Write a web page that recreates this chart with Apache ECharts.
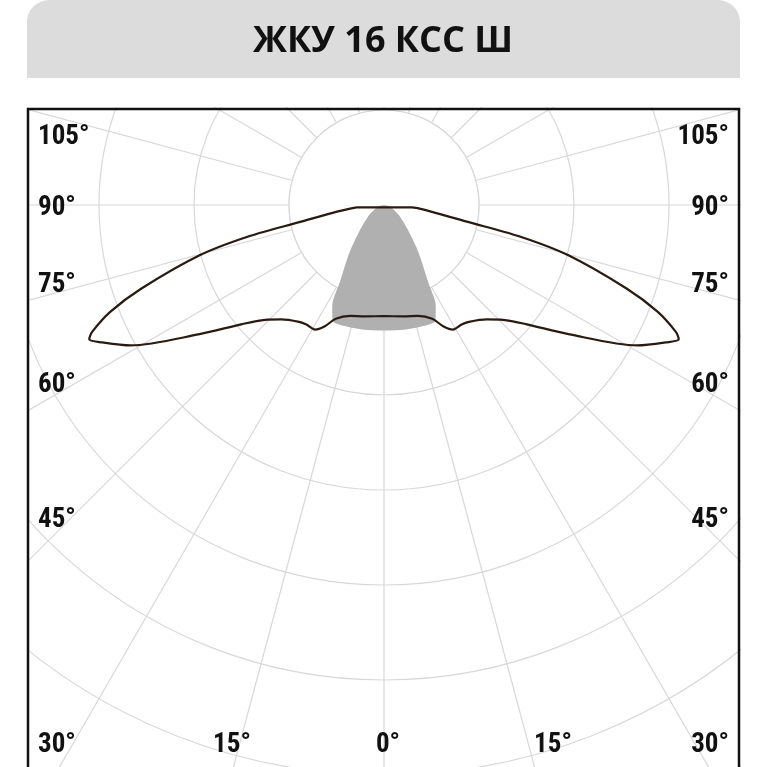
<!DOCTYPE html>
<html><head><meta charset="utf-8">
<script src="https://cdn.jsdelivr.net/npm/echarts@6/dist/echarts.min.js"></script>
<style>html,body{margin:0;padding:0;background:#fff}#c{width:767px;height:767px}</style>
</head><body><div id="c"></div>
<script>
const title = 'ЖКУ 16 КСС Ш';
// half-curve (angle from nadir, relative radius in circle units)
const outerAngles = [0,10,17,23,26,29,33,36,42,46,50,55,61,64,65.5,66.5,68.7,71,74.8,77,78.6,82,85];
const outerValues = [1.17,1.19,1.22,1.30,1.42,1.50,1.50,1.52,1.62,1.74,1.95,2.37,3.05,3.30,3.41,3.35,3.09,2.7,2.0,1.45,0.9,0.5,0.29];
const innerAngles = [0,10,18,24,27,30,36,44,55,67,80];
const innerValues = [1.32,1.33,1.34,1.33,1.2,0.92,0.62,0.36,0.2,0.1,0.06];
const sideLabels = ['105°','90°','75°','60°','45°','30°'];
const sideLabelY = [137,208,285,385,520,745];
const bottomLabels = ['15°','0°','15°'];
const bottomLabelX = [232,388,553];

function mirror(a, v, close){
  const d=[];
  for(let i=a.length-1;i>=0;i--) d.push([v[i], a[i]]);
  for(let i=0;i<a.length;i++) d.push([v[i], 360-a[i]]);
  if(close) d.push([v[a.length-1], a[a.length-1]]);
  return d;
}
const font='"Liberation Sans Narrow","Roboto Condensed","Liberation Sans",sans-serif';
const graphics=[
  {type:'circle',shape:{cx:384,cy:205,r:95},style:{fill:'#fff',stroke:'#d8d8d8',lineWidth:1.2},z:1},
  {type:'rect',shape:{x:0,y:0,width:27,height:767},style:{fill:'#fff'},z:100},
  {type:'rect',shape:{x:741,y:0,width:30,height:767},style:{fill:'#fff'},z:100},
  {type:'rect',shape:{x:0,y:0,width:767,height:107},style:{fill:'#fff'},z:100},
  {type:'rect',shape:{x:27,y:0,width:713,height:78,r:[22,22,0,0]},style:{fill:'#dcdcdc'},z:101},
  {type:'text',x:383,y:42,style:{text:title,fill:'#111',font:'bold 36px "Open Sans",sans-serif',textAlign:'center',textVerticalAlign:'middle'},z:102},
  {type:'rect',shape:{x:28,y:109,width:711,height:660},style:{fill:'none',stroke:'#111',lineWidth:2.5},z:102}
];
sideLabels.forEach((t,i)=>{
  graphics.push({type:'text',x:38,y:sideLabelY[i],style:{text:t,fill:'#111',font:'bold 27px '+font,textAlign:'left',textVerticalAlign:'middle'},z:102});
  graphics.push({type:'text',x:729,y:sideLabelY[i],style:{text:t,fill:'#111',font:'bold 27px '+font,textAlign:'right',textVerticalAlign:'middle'},z:102});
});
bottomLabels.forEach((t,i)=>{
  graphics.push({type:'text',x:bottomLabelX[i],y:745,style:{text:t,fill:'#111',font:'bold 27px '+font,textAlign:'center',textVerticalAlign:'middle'},z:102});
});
const chart=echarts.init(document.getElementById('c'));
chart.setOption({
  animation:false,
  polar:{center:[384,205],radius:665},
  angleAxis:{type:'value',min:0,max:360,interval:15,startAngle:270,clockwise:true,z:0,
    axisLine:{show:false},axisTick:{show:false},axisLabel:{show:false},
    splitLine:{show:true,lineStyle:{color:'#d8d8d8',width:1.2}}},
  radiusAxis:{type:'value',min:0,max:7,interval:1,z:0,
    axisLine:{show:false},axisTick:{show:false},axisLabel:{show:false},
    splitLine:{show:true,lineStyle:{color:'#d8d8d8',width:1.2}}},
  series:[
    {type:'line',coordinateSystem:'polar',z:5,data:mirror(innerAngles,innerValues,false),symbol:'none',smooth:0.3,
     lineStyle:{width:0},areaStyle:{color:'#b0b0b0',opacity:1}},
    {type:'line',coordinateSystem:'polar',z:6,data:mirror(outerAngles,outerValues,true),symbol:'none',smooth:0.3,
     lineStyle:{color:'#2a1a10',width:2.2}}
  ],
  graphic:graphics
});
</script></body></html>
